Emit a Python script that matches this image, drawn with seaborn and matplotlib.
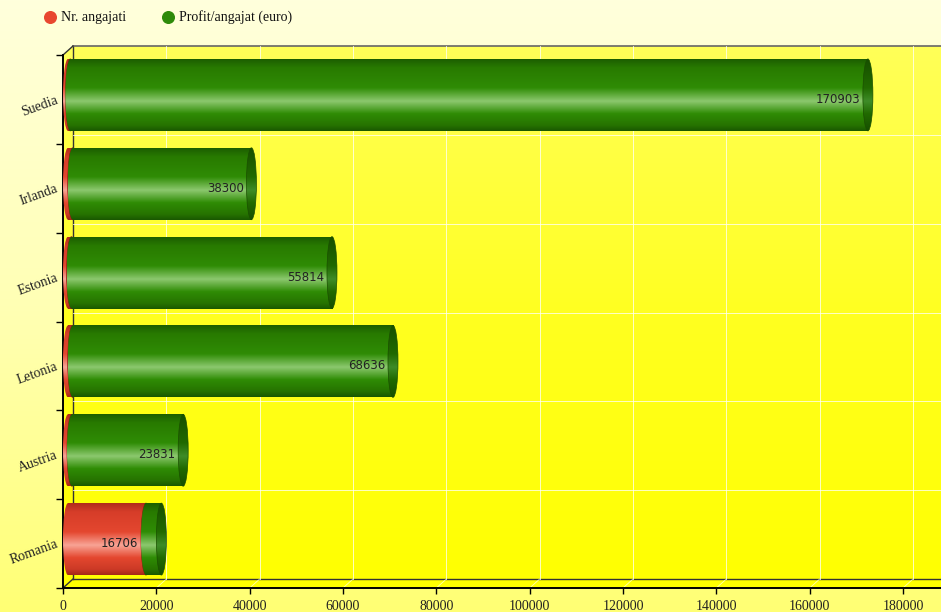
import numpy as np
import pandas as pd
import seaborn as sns
import matplotlib.pyplot as plt
from matplotlib.patches import Ellipse, Rectangle, Polygon
from matplotlib.colors import LinearSegmentedColormap
from matplotlib.transforms import ScaledTranslation

# data
countries = ["Suedia", "Irlanda", "Estonia", "Letonia", "Austria", "Romania"]
nr_angajati = [500, 1000, 750, 1000, 850, 16706]
profit_angajat = [170903, 38300, 55814, 68636, 23831, 3300]
x_ticks = list(range(0, 200000, 20000))
series_names = ["Nr. angajati", "Profit/angajat (euro)"]

RED, GREEN = "#e8472f", "#2e8b0a"

W, H, DPI = 941, 612, 100
L, T, B = 63, 55, 588      # front plane (pixels)
DX, DY = 10, 9             # 3d depth
PX_180K = 903              # pixel of the 180000 tick

plt.rcParams["font.family"] = ["Liberation Serif", "DejaVu Serif"]

fig = plt.figure(figsize=(W / DPI, H / DPI), dpi=DPI)

# background layer in pixel coords
bg = fig.add_axes([0, 0, 1, 1], zorder=0)
bg.set_xlim(0, W)
bg.set_ylim(H, 0)
bg.axis("off")
fig_cmap = LinearSegmentedColormap.from_list("figbg", ["#ffffdc", "#ffffb4", "#ffff74"])
bg.imshow(np.linspace(0, 1, 256)[:, None], extent=(0, W, H, 0), origin="upper",
          aspect="auto", cmap=fig_cmap, zorder=0)
plot_cmap = LinearSegmentedColormap.from_list("plotbg", ["#ffff58", "#ffff20", "#ffff00"])
area = Polygon([(L, T), (L + DX, T - DY), (W, T - DY), (W, B), (L, B)],
               closed=True, facecolor="none", edgecolor="none")
bg.add_patch(area)
im = bg.imshow(np.linspace(0, 1, 256)[:, None], extent=(L, W, B, T - DY), origin="upper",
               aspect="auto", cmap=plot_cmap, zorder=1)
im.set_clip_path(area)
# back plane frame
bg.plot([L + DX, L + DX], [T - DY, B - DY], color="#333333", lw=1, zorder=2)
bg.plot([L + DX, W], [B - DY, B - DY], color="#333333", lw=1, zorder=2)
bg.plot([L + DX, W], [T - DY, T - DY], color="#666666", lw=1.2, zorder=2)
bg.plot([L, L + DX], [T, T - DY], color="#333333", lw=1, zorder=2)
bg.plot([L, L + DX], [B, B - DY], color="#333333", lw=1, zorder=2)

# legend
for cx, col, name in [(50, RED, series_names[0]), (168, GREEN, series_names[1])]:
    bg.scatter([cx], [17], s=70, color=col, zorder=3)
    bg.text(cx + 11, 17.5, name, fontsize=10, va="center", ha="left", color="#111111", zorder=3)

# main axes
ax = fig.add_axes([L / W, 1 - B / H, 1 - L / W, (B - T) / H], zorder=2)
ax.patch.set_alpha(0)

df = pd.DataFrame({"tara": countries, "nr": nr_angajati, "profit": profit_angajat})
df["total"] = df["nr"] + df["profit"]
sns.barplot(data=df, y="tara", x="total", orient="h", color=GREEN, width=0.81, ax=ax)
sns.barplot(data=df, y="tara", x="nr", orient="h", color=RED, width=0.81, ax=ax)
tot_bars = ax.patches[:len(countries)]
red_bars = ax.patches[len(countries):]
geo = [(p.get_y(), p.get_height()) for p in tot_bars]
for p in ax.patches:
    p.set_visible(False)

pxk = (PX_180K - L) / 180.0            # pixels per 1000
xmax = (W - L) / pxk * 1000
capw = 10 / pxk * 1000                 # cap width in data units
shift = -4.5 / ((B - T) / 6.0)         # bars sit a little into the depth

green_body = LinearSegmentedColormap.from_list("gb", [
    (0, "#1c5e00"), (0.12, "#287a00"), (0.4, "#2f8c05"), (0.585, "#8cc86e"),
    (0.76, "#2f8c05"), (0.92, "#267300"), (1, "#1a5800")])
green_cap = LinearSegmentedColormap.from_list("gc", [
    (0, "#174f00"), (0.4, "#216a00"), (0.585, "#3f8c28"), (0.76, "#216a00"), (1, "#174f00")])
red_body = LinearSegmentedColormap.from_list("rb", [
    (0, "#b02c1c"), (0.12, "#d63d29"), (0.4, "#e4472f"), (0.585, "#f8a495"),
    (0.76, "#e4472f"), (0.92, "#cc3a26"), (1, "#a42818")])
red_cap = LinearSegmentedColormap.from_list("rc", [
    (0, "#a42818"), (0.5, "#d24a36"), (1, "#a42818")])

grad = np.linspace(0, 1, 256)[:, None]


def cylinder(x0, x1, yc, h, body, cap, z):
    top = yc - h / 2
    c0, c1 = x0 + capw / 2, x1 + capw / 2
    parts = [(Rectangle((c0, top), c1 - c0, h), body),
             (Ellipse((c0, yc), capw, h), body),
             (Ellipse((c1, yc), capw, h), cap)]
    for k, (p, cm) in enumerate(parts):
        p.set_facecolor("none")
        p.set_edgecolor("none")
        ax.add_patch(p)
        im = ax.imshow(grad, extent=(x0, x1 + capw, top + h, top), origin="upper",
                       aspect="auto", cmap=cm, zorder=z + k * 0.1)
        im.set_clip_path(p)
    ring = Ellipse((c1, yc), capw, h, facecolor="none",
                   edgecolor="#1a4f00" if cap is green_cap else "#8a2010",
                   lw=0.5, zorder=z + 0.35)
    ax.add_patch(ring)


for i, (y, h) in enumerate(geo):
    yc = y + h / 2 + shift
    red_end = red_bars[i].get_width()
    tot_end = tot_bars[i].get_width()
    cylinder(0, red_end, yc, h, red_body, red_cap, 3)
    cylinder(red_end, tot_end, yc, h, green_body, green_cap, 4)
    for start, end, val in [(0, red_end, nr_angajati[i]), (red_end, tot_end, profit_angajat[i])]:
        if end - start > 10000:
            ax.annotate(str(val), xy=(end, y + h / 2), xytext=(-2, 0), textcoords="offset points",
                        ha="right", va="center", fontsize=8.5, color="#222222",
                        family="DejaVu Sans", zorder=6)

# grid in the back plane
back = ScaledTranslation(DX / DPI, DY / DPI, fig.dpi_scale_trans)
for xt in x_ticks[1:]:
    ax.plot([xt, xt], [0, 1], transform=ax.get_xaxis_transform() + back,
            color="white", lw=0.7, alpha=0.75, clip_on=False, zorder=1)
    ax.plot([xt, xt + DX / pxk * 1000], [0, DY / (B - T)], transform=ax.get_xaxis_transform(),
            color="white", lw=0.6, alpha=0.7, clip_on=False, zorder=1)
for yb in np.arange(0.5, len(countries) - 0.5, 1.0):
    ax.plot([0, 1], [yb, yb], transform=ax.get_yaxis_transform() + back,
            color="white", lw=0.7, alpha=0.75, clip_on=False, zorder=1)

ax.set_xlim(0, xmax)
ax.set_ylim(len(countries) - 0.5, -0.5)
ax.set_xticks(x_ticks)
ax.set_xticklabels([str(v) for v in x_ticks], fontsize=10, color="#222222")
ax.set_yticks(range(len(countries)))
ax.set_yticklabels(countries, fontsize=10, color="#222222")
plt.setp(ax.get_yticklabels(), rotation=20, ha="right", va="center", rotation_mode="anchor")
ax.set_yticks(np.arange(-0.5, len(countries), 1.0), minor=True)
ax.tick_params(axis="y", which="major", length=0, pad=4)
ax.tick_params(axis="y", which="minor", length=5, width=1, color="black")
ax.tick_params(axis="x", length=4, width=1, color="black", pad=5)
ax.set_xlabel("")
ax.set_ylabel("")
for s in ["top", "right"]:
    ax.spines[s].set_visible(False)
for s in ["left", "bottom"]:
    ax.spines[s].set_color("black")
    ax.spines[s].set_linewidth(1.4)

fig.savefig("out.png", dpi=DPI)
